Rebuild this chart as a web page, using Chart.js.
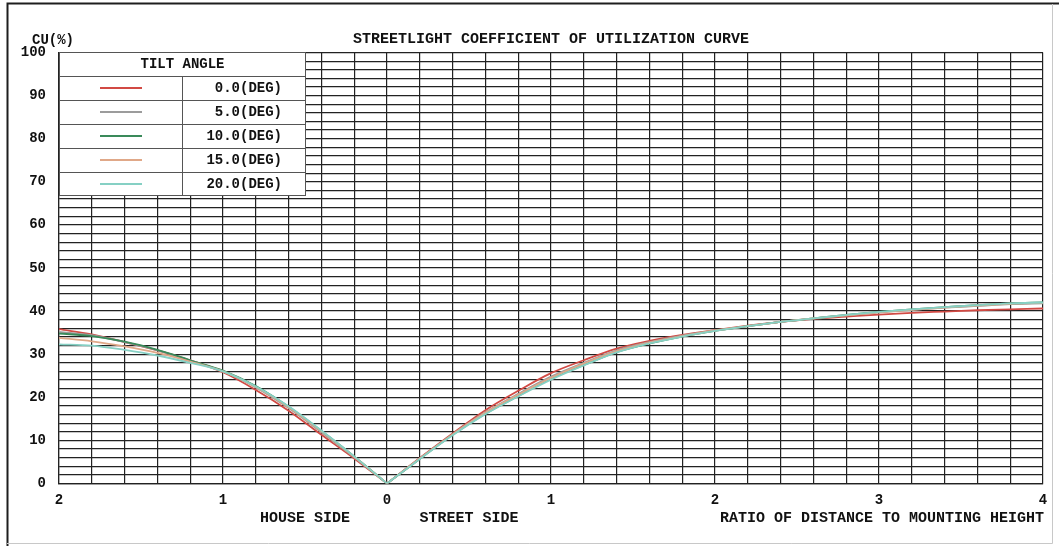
<!DOCTYPE html>
<html>
<head>
<meta charset="utf-8">
<title>Streetlight Coefficient of Utilization Curve</title>
<script src="https://cdn.jsdelivr.net/npm/chart.js@4.4.1/dist/chart.umd.min.js"></script>
<style>
  html, body { margin: 0; padding: 0; background: #ffffff; }
  #wrap { width: 1059px; height: 546px; position: relative; }
</style>
</head>
<body>
<div id="wrap"><canvas id="cu"></canvas></div>
<script>
// Tilt angles (deg) shown in the legend table
const tiltAngles = ['0.0', '5.0', '10.0', '15.0', '20.0'];
const tiltColors = ['#d24a44', '#9c9c9c', '#3a8a5a', '#e0a888', '#86d0c4'];

// Ratio of distance to mounting height
const houseRatios  = [2.0, 1.8, 1.6, 1.4, 1.2, 1.0, 0.8, 0.6, 0.4, 0.2, 0.0];
const streetRatios = [0.0, 0.2, 0.4, 0.6, 0.8, 1.0, 1.2, 1.4, 1.6, 1.8, 2.0,
                      2.2, 2.4, 2.6, 2.8, 3.0, 3.2, 3.4, 3.6, 3.8, 4.0];

// CU (%) on the house side, per tilt angle
const houseCU_0  = [35.8, 34.6, 32.8, 30.9, 28.6, 25.8, 21.7, 16.9, 11.3, 5.8, 0];
const houseCU_5  = [35.2, 34.4, 32.8, 30.9, 28.5, 26.0, 22.3, 17.5, 11.9, 6.1, 0];
const houseCU_10 = [34.8, 34.2, 32.9, 31.0, 28.6, 26.2, 22.6, 17.8, 12.2, 6.3, 0];
const houseCU_15 = [33.8, 33.0, 31.8, 30.3, 28.3, 26.0, 22.4, 17.7, 12.1, 6.2, 0];
const houseCU_20 = [32.3, 32.0, 31.0, 29.7, 28.0, 26.0, 22.5, 17.9, 12.3, 6.3, 0];

// CU (%) on the street side, per tilt angle
const streetCU_0  = [0, 5.9, 11.6, 17.0, 21.5, 25.6, 28.6, 31.3, 33.1, 34.5, 35.6, 36.6, 37.5, 38.2, 38.7, 39.2, 39.6, 39.9, 40.2, 40.4, 40.6];
const streetCU_5  = [0, 5.8, 11.4, 16.5, 20.8, 24.8, 28.0, 30.9, 32.8, 34.3, 35.5, 36.5, 37.5, 38.3, 39.0, 39.7, 40.3, 40.8, 41.2, 41.6, 41.8];
const streetCU_10 = [0, 5.7, 11.3, 16.2, 20.3, 24.3, 27.5, 30.5, 32.5, 34.1, 35.4, 36.5, 37.5, 38.3, 39.1, 39.8, 40.4, 40.9, 41.4, 41.8, 42.0];
const streetCU_15 = [0, 5.8, 11.4, 16.4, 20.6, 24.5, 27.8, 30.7, 32.7, 34.2, 35.5, 36.5, 37.5, 38.3, 39.0, 39.7, 40.3, 40.8, 41.3, 41.7, 41.9];
const streetCU_20 = [0, 5.7, 11.2, 16.1, 20.2, 24.1, 27.4, 30.4, 32.5, 34.1, 35.4, 36.5, 37.5, 38.3, 39.1, 39.8, 40.4, 40.9, 41.4, 41.8, 42.0];

const houseSeries  = [houseCU_0, houseCU_5, houseCU_10, houseCU_15, houseCU_20];
const streetSeries = [streetCU_0, streetCU_5, streetCU_10, streetCU_15, streetCU_20];

const FONT = "'Liberation Mono', 'DejaVu Sans Mono', monospace";
const GRID = '#222222';

// House side is plotted on the negative half of the axis, street side on the positive half.
// Higher tilt angles are painted over lower ones.
const datasets = [];
tiltAngles.forEach((a, i) => {
  const common = {
    label: a + '(DEG)',
    borderColor: tiltColors[i], borderWidth: 1.8,
    pointRadius: 0, showLine: true, cubicInterpolationMode: 'monotone', fill: false,
    order: tiltAngles.length - 1 - i
  };
  datasets.push(Object.assign({
    data: houseRatios.map((r, k) => ({ x: -r, y: houseSeries[i][k] }))
  }, common));
  datasets.push(Object.assign({
    data: streetRatios.map((r, k) => ({ x: r, y: streetSeries[i][k] }))
  }, common));
});

const decorations = {
  id: 'decorations',
  beforeDraw(chart) {
    const ctx = chart.ctx;
    ctx.save();
    ctx.fillStyle = '#ffffff';
    ctx.fillRect(0, 0, chart.width, chart.height);
    ctx.restore();
  },
  afterDraw(chart) {
    const ctx = chart.ctx;
    const area = chart.chartArea;
    const xs = chart.scales.x;
    ctx.save();

    // page frame
    ctx.strokeStyle = '#1e1e1e';
    ctx.lineWidth = 2;
    ctx.beginPath();
    ctx.moveTo(7.5, chart.height); ctx.lineTo(7.5, 3.5); ctx.lineTo(chart.width, 3.5);
    ctx.stroke();
    ctx.strokeStyle = '#c8c8c8';
    ctx.lineWidth = 1;
    ctx.beginPath();
    ctx.moveTo(7, 543.5); ctx.lineTo(1052.5, 543.5); ctx.lineTo(1052.5, 4);
    ctx.stroke();

    // title and axis texts
    ctx.fillStyle = '#111';
    ctx.font = 'bold 15px ' + FONT;
    ctx.textBaseline = 'middle';
    ctx.textAlign = 'center';
    ctx.fillText('STREETLIGHT COEFFICIENT OF UTILIZATION CURVE', (area.left + area.right) / 2, 39);
    ctx.font = 'bold 14px ' + FONT;
    ctx.textAlign = 'left';
    ctx.fillText('CU(%)', 32, 40);
    ctx.font = 'bold 15px ' + FONT;
    ctx.textAlign = 'center';
    ctx.fillText('HOUSE SIDE', xs.getPixelForValue(-0.5), 518);
    ctx.fillText('STREET SIDE', xs.getPixelForValue(0.5), 518);
    ctx.textAlign = 'right';
    ctx.fillText('RATIO OF DISTANCE TO MOUNTING HEIGHT', area.right + 1, 518);

    // legend table
    const L = area.left, R = 305, T = area.top, B = 195.5, mid = 182.5;
    const rowTops = [76, 100, 124, 148, 172];
    ctx.fillStyle = '#ffffff';
    ctx.fillRect(L, T, R - L, B - T);
    ctx.strokeStyle = '#555';
    ctx.lineWidth = 1;
    ctx.strokeRect(L + 0.5, T, R - L, B - T);
    ctx.beginPath();
    rowTops.forEach(y => { ctx.moveTo(L, y + 0.5); ctx.lineTo(R, y + 0.5); });
    ctx.moveTo(mid, 76); ctx.lineTo(mid, B);
    ctx.stroke();
    ctx.fillStyle = '#111';
    ctx.font = 'bold 14px ' + FONT;
    ctx.textAlign = 'center';
    ctx.fillText('TILT ANGLE', mid, 64);
    tiltAngles.forEach((a, i) => {
      const yc = rowTops[i] + 12;
      ctx.strokeStyle = tiltColors[i];
      ctx.lineWidth = 1.8;
      ctx.beginPath();
      ctx.moveTo(100, yc); ctx.lineTo(142, yc);
      ctx.stroke();
      ctx.fillStyle = '#111';
      ctx.textAlign = 'right';
      ctx.fillText(a + '(DEG)', 282, yc);
    });
    ctx.restore();
  }
};

new Chart(document.getElementById('cu'), {
  type: 'scatter',
  data: { datasets },
  options: {
    responsive: true,
    maintainAspectRatio: false,
    animation: false,
    layout: { padding: { left: 0, top: 52.5, right: 16, bottom: 0 } },
    plugins: { legend: { display: false }, title: { display: false }, tooltip: { enabled: false } },
    scales: {
      x: {
        type: 'linear', min: -2, max: 4,
        afterFit(s) { s.height = 62.5; },
        ticks: {
          stepSize: 0.2, autoSkip: false, maxRotation: 0, padding: 9,
          color: '#111', font: { family: FONT, size: 14, weight: 'bold' },
          callback(v) {
            const r = Math.round(v);
            return Math.abs(v - r) < 1e-6 ? String(Math.abs(r)) : '';
          }
        },
        grid: { color: GRID, lineWidth: 1.2, drawTicks: false },
        border: { color: GRID, width: 1.2 }
      },
      y: {
        min: 0, max: 100,
        afterFit(s) { s.width = 59; },
        ticks: {
          stepSize: 2, autoSkip: false, padding: 13,
          color: '#111', font: { family: FONT, size: 14, weight: 'bold' },
          callback(v) { return v % 10 === 0 ? String(v) : ''; }
        },
        grid: { color: GRID, lineWidth: 1.2, drawTicks: false },
        border: { color: GRID, width: 1.2 }
      }
    }
  },
  plugins: [decorations]
});
</script>
</body>
</html>
